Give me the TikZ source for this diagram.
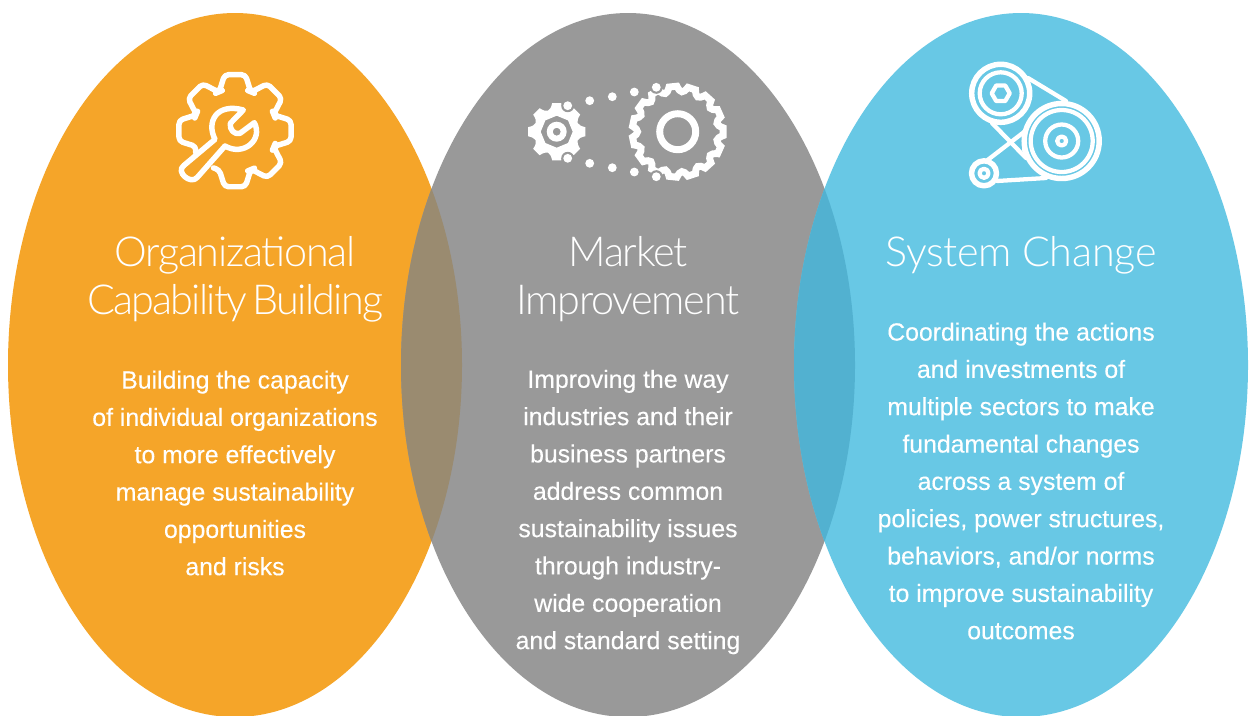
\documentclass[tikz,border=0pt]{standalone}
\usepackage{fontspec}
\setmainfont[FakeBold=0.25]{Liberation Sans}
\newfontfamily\lightfont[LetterSpace=-3.2,WordSpace=0.55]{Lato Light}
\newfontfamily\lightfonttight[LetterSpace=-4.2,WordSpace=0.55]{Lato Light}
\newfontfamily\lightfontwide[LetterSpace=-0.6,WordSpace=0.9]{Lato Light}
\definecolor{orangeC}{HTML}{F5A529}
\definecolor{grayC}{HTML}{999999}
\definecolor{blueC}{HTML}{68C8E5}
\definecolor{leftO}{HTML}{9A8B70}
\definecolor{rightO}{HTML}{52B1D0}
\tikzset{
  headtext/.style={text=white,align=center,font=\lightfont\fontsize{31}{36}\selectfont,inner sep=0pt},
  bodytext/.style={text=white,align=center,font=\fontsize{18.6}{28}\selectfont,inner sep=0pt},
  iconline/.style={draw=white,line width=4.1pt,line join=round,line cap=round},
  thinline/.style={draw=white,line width=3.2pt,line join=round,line cap=round},
}
\begin{document}
\begin{tikzpicture}[x=0.75pt,y=-0.75pt]
\useasboundingbox (0,0) rectangle (1251,715);
\clip (0,0) rectangle (1251,715);
\fill[white] (0,0) rectangle (1251,715);
% ellipses
\fill[orangeC] (235,365) ellipse [x radius=227,y radius=352];
\fill[grayC] (628,365) ellipse [x radius=227,y radius=352];
\fill[blueC] (1021,365) ellipse [x radius=227,y radius=352];
\begin{scope}
  \clip (235,365) ellipse [x radius=227,y radius=352];
  \fill[leftO] (628,365) ellipse [x radius=227,y radius=352];
\end{scope}
\begin{scope}
  \clip (628,365) ellipse [x radius=227,y radius=352];
  \fill[rightO] (1021,365) ellipse [x radius=227,y radius=352];
\end{scope}
% wrench gear icon
\begin{scope}[shift={(235,130.7)}]
  \draw[iconline,rounded corners=3pt] (151:45)
    \foreach \a in {180,225,270,315,360,405,450} {
      -- (\a-22:42) -- (\a-10.5:57) -- (\a+10.5:57) -- (\a+22:42)
    } -- (120:43);
\end{scope}
\begin{scope}[shift={(160,60)},x=0.25pt,y=-0.25pt]
  \draw[iconline] (165,238) .. controls (138,185) and (170,128) .. (250,150)
    -- (211,190) .. controls (208,208) and (222,225) .. (240,220)
    -- (283,188) .. controls (310,240) and (250,290) .. (195,258)
    -- (112,352) .. controls (92,376) and (45,335) .. (72,316) -- cycle;
\end{scope}
% gears
\begin{scope}[shift={(556.7,131.7)}]
  \fill[white,even odd rule] (90-9:29)
    \foreach \a in {90,135,180,225,270,315,360,405} {
      -- (\a-9:29) -- (\a+9:29) .. controls (\a+18:21) and (\a+27:21) .. (\a+36:29)
    } -- cycle
    (0:16) \foreach \a in {45,90,...,360} { -- (\a:16) } -- cycle;
  \fill[white,even odd rule] (0,0) circle (10) (0,0) circle (4);
\end{scope}
\begin{scope}[shift={(677.7,131.7)}]
  \draw[white,line width=5.2pt,line join=miter] (-5:45.5)
    \foreach \i in {0,...,14} {
      -- ({\i*24-5}:45.5) -- ({\i*24+5}:45.5)
      .. controls ({\i*24+10}:38.5) and ({\i*24+14}:38.5) .. ({\i*24+19}:45.5)
    } -- cycle;
  \fill[white,even odd rule] (0,0) circle (21.5) (0,0) circle (14.5);
\end{scope}
\foreach \p in {(567.7,105.7),(656.3,87.3),(567.7,158.3),(656.3,176.7)} {
  \fill[grayC] \p circle (6.5);
}
\foreach \p in {(567.7,105.7),(589.7,100.7),(612.3,96.7),(634.3,92),(656.3,87.3),
                (567.7,158.3),(589.7,163.3),(612.3,167.7),(634.3,172),(656.3,176.7)} {
  \fill[white] \p circle (4.4);
}
% pulleys
\draw[thinline] (1028,78) -- (1066,101);
\draw[thinline] (992,123) -- (1026,158);
\draw[thinline] (1024,132) -- (1024,150);
\draw[thinline] (1024,132) -- (985,162);
\draw[thinline] (997,181) -- (1046,178);
\fill[blueC] (1061.7,141) circle (38);
\draw[iconline] (1000.7,93.3) circle (29);
\draw[thinline] (1000.7,93.3) circle (21);
\draw[thinline] (1009.7,93.3) -- (1005.2,101.1) -- (996.2,101.1) -- (991.7,93.3) -- (996.2,85.5) -- (1005.2,85.5) -- cycle;
\draw[iconline] (1061.7,141) circle (37.5);
\draw[thinline] (1061.7,141) circle (31);
\draw[thinline] (1061.7,141) circle (16.5);
\draw[thinline] (1061.7,141) circle (4.5);
\draw[iconline,fill=blueC] (984,173.3) circle (12.5);
\draw[thinline] (984,173.3) circle (4.5);
% texts
\node[headtext] (h1) at (235,279) {Organizational\\{\lightfonttight\fontsize{31}{36}\selectfont Capability Building}};
\node[headtext] (h2) at (628,279) {Market\\Improvement};
\node[headtext] (h3) at (1021,255) {\lightfontwide\fontsize{31}{36}\selectfont System Change};
\node[bodytext] (b1) at (235,473) {Building the capacity\\of individual organizations\\to more effectively\\manage sustainability\\opportunities\\and risks};
\node[bodytext] (b2) at (628,512) {Improving the way\\industries and their\\business partners\\address common\\sustainability issues\\through industry-\\wide cooperation\\and standard setting};
\node[bodytext] (b3) at (1021,481) {Coordinating the actions\\and investments of\\multiple sectors to make\\fundamental changes\\across a system of\\policies, power structures,\\behaviors, and/or norms\\to improve sustainability\\outcomes};
\end{tikzpicture}
\end{document}
